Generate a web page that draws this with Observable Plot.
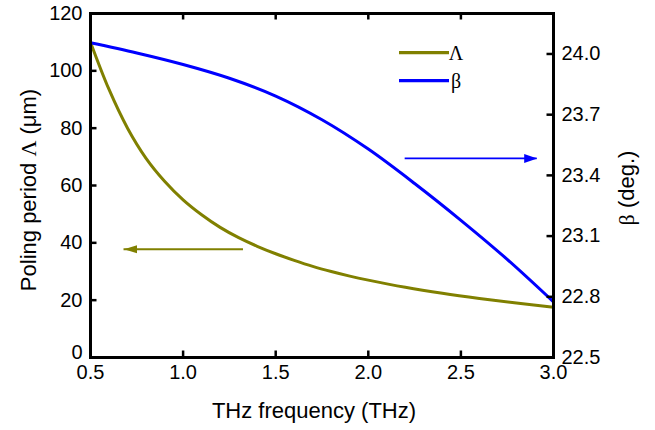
<!DOCTYPE html>
<html><head><meta charset="utf-8">
<script src="https://cdn.jsdelivr.net/npm/d3@7"></script>
<script src="https://cdn.jsdelivr.net/npm/@observablehq/plot@0.6"></script>
<style>
body{margin:0;background:#fff}
#chart{position:relative;width:655px;height:430px}
</style>
</head><body><div id="chart"></div>
<script>
// Poling period Λ (µm) vs THz frequency
const freqLambda = [0.5,0.6,0.7,0.8,0.9,1.0,1.1,1.2,1.3,1.4,1.5,1.6,1.7,1.8,1.9,2.0,2.2,2.4,2.6,2.8,3.0];
const lambdaUm   = [110,93.5,80,69.5,61.5,55,49.8,45.4,41.8,38.8,36.2,33.9,31.8,30,28.4,27,24.5,22.4,20.6,19,17.5];
// β (deg.) vs THz frequency
const freqBeta = [0.5,0.75,1.0,1.25,1.5,1.75,2.0,2.25,2.5,2.75,3.0];
const betaDeg  = [24.055,24.005,23.948,23.88,23.792,23.675,23.53,23.36,23.178,22.985,22.775];
// axes
const xTicks = [0.5,1.0,1.5,2.0,2.5,3.0];
const leftTicks = [0,20,40,60,80,100,120];
const rightTicks = [22.5,22.8,23.1,23.4,23.7,24.0];
const xDomain = [0.5,3.0];
const leftDomain = [0,120];
const betaDomain = [22.5,24.2];
// annotation arrows
const arrowSeries = ["Λ","β"];
const arrowFrom = [1.326, 2.199];
const arrowTo = [0.681, 2.912];
const arrowValue = [37.8, 23.484];

const OLIVE = "#808000", BLUE = "#0000ff";
const toLeft = b => (b - betaDomain[0]) / (betaDomain[1] - betaDomain[0]) * (leftDomain[1] - leftDomain[0]) + leftDomain[0];

const lambdaData = freqLambda.map((f,i)=>({f, v: lambdaUm[i]}));
const betaData = freqBeta.map((f,i)=>({f, v: toLeft(betaDeg[i])}));
const arrows = arrowSeries.map((s,i)=>({s, from: arrowFrom[i], to: arrowTo[i], y: s === "β" ? toLeft(arrowValue[i]) : arrowValue[i]}));

const W = 655, H = 430, mL = 90, mR = 102, mT = 13, mB = 73;
const tickPx = 6.5;
const xUnitPerPx = (xDomain[1]-xDomain[0]) / (W - mL - mR);
const yUnitPerPx = (leftDomain[1]-leftDomain[0]) / (H - mT - mB);
const tx = tickPx * xUnitPerPx, ty = tickPx * yUnitPerPx;

const headRight = {draw(ctx){ ctx.moveTo(0,0); ctx.lineTo(-13,-4.5); ctx.lineTo(-13,4.5); ctx.closePath(); }};
const headLeft = {draw(ctx){ ctx.moveTo(0,0); ctx.lineTo(13,-4); ctx.lineTo(13,4); ctx.closePath(); }};

const FS = 20;
const svg = Plot.plot({
  width: W, height: H,
  marginLeft: mL, marginRight: mR, marginTop: mT, marginBottom: mB,
  style: {fontFamily: "'Liberation Sans', Arial, sans-serif", fontSize: FS + "px", color: "black", background: "white"},
  x: {domain: xDomain},
  y: {domain: leftDomain},
  marks: [
    Plot.line(lambdaData, {x: "f", y: "v", stroke: OLIVE, strokeWidth: 3, curve: "catmull-rom"}),
    Plot.line(betaData, {x: "f", y: "v", stroke: BLUE, strokeWidth: 3, curve: "catmull-rom"}),
    Plot.ruleY(arrows.filter(d=>d.s==="Λ"), {x1: "from", x2: "to", y: "y", stroke: OLIVE, strokeWidth: 2}),
    Plot.ruleY(arrows.filter(d=>d.s==="β"), {x1: "from", x2: "to", y: "y", stroke: BLUE, strokeWidth: 1.8}),
    Plot.dot(arrows.filter(d=>d.s==="Λ"), {x: "to", y: "y", symbol: headLeft, fill: OLIVE, stroke: "none", r: 5}),
    Plot.dot(arrows.filter(d=>d.s==="β"), {x: "to", y: "y", symbol: headRight, fill: BLUE, stroke: "none", r: 5}),
    // inward ticks
    Plot.ruleX(xTicks, {x: d=>d, y1: leftDomain[0], y2: leftDomain[0] + ty, stroke: "black", strokeWidth: 2.5}),
    Plot.ruleX(xTicks, {x: d=>d, y1: leftDomain[1], y2: leftDomain[1] - ty, stroke: "black", strokeWidth: 2.5}),
    Plot.ruleY(leftTicks, {y: d=>d, x1: xDomain[0], x2: xDomain[0] + tx, stroke: "black", strokeWidth: 2.5}),
    Plot.ruleY(rightTicks.map(toLeft), {y: d=>d, x1: xDomain[1], x2: xDomain[1] - tx, stroke: "black", strokeWidth: 2.5}),
    Plot.axisX(xTicks, {tickSize: 0, tickPadding: 7, label: null, tickFormat: d=>d.toFixed(1), fontSize: FS}),
    Plot.axisY(leftTicks.filter(d=>d !== 0), {anchor: "left", tickSize: 0, tickPadding: 8, label: null, fontSize: FS}),
    Plot.axisY(leftTicks.filter(d=>d === 0), {anchor: "left", tickSize: 0, tickPadding: 8, label: null, fontSize: FS, dy: -5}),
    Plot.axisY(rightTicks.map(toLeft), {anchor: "right", tickSize: 0, tickPadding: 8, label: null, fontSize: FS,
      tickFormat: (d,i)=>rightTicks[i].toFixed(1)}),
    Plot.frame({stroke: "black", strokeWidth: 3})
  ]
});

const s = d3.select(svg);
const TFS = 22;
s.append("text").attr("x", 314).attr("y", 418).attr("text-anchor","middle")
  .attr("font-size", TFS).attr("fill","black").text("THz frequency (THz)");
s.append("text").attr("transform", "translate(36,190) rotate(-90)").attr("text-anchor","middle")
  .attr("font-size", TFS).attr("fill","black")
  .call(t=>{ t.append("tspan").text("Poling period "); t.append("tspan").attr("font-family","'Liberation Serif', serif").text("Λ"); t.append("tspan").text(" (μm)"); });
s.append("text").attr("transform", "translate(634,188) rotate(-90)").attr("text-anchor","middle")
  .attr("font-size", TFS).attr("fill","black")
  .call(t=>{ t.append("tspan").attr("font-family","'Liberation Serif', serif").text("β"); t.append("tspan").text(" (deg.)"); });

// legend
const legend = [{label:"Λ", color: OLIVE, y: 52.7},{label:"β", color: BLUE, y: 80.7}];
const lg = s.append("g");
legend.forEach(d=>{
  lg.append("line").attr("x1",399).attr("x2",449).attr("y1",d.y).attr("y2",d.y).attr("stroke",d.color).attr("stroke-width",3.2);
  lg.append("text").attr("x",456).attr("y",d.y).attr("dy","0.35em").attr("font-family","'Liberation Serif', serif")
    .attr("font-size",20).attr("fill","black").text(d.label);
});
document.getElementById("chart").appendChild(svg);
</script>
</body></html>
